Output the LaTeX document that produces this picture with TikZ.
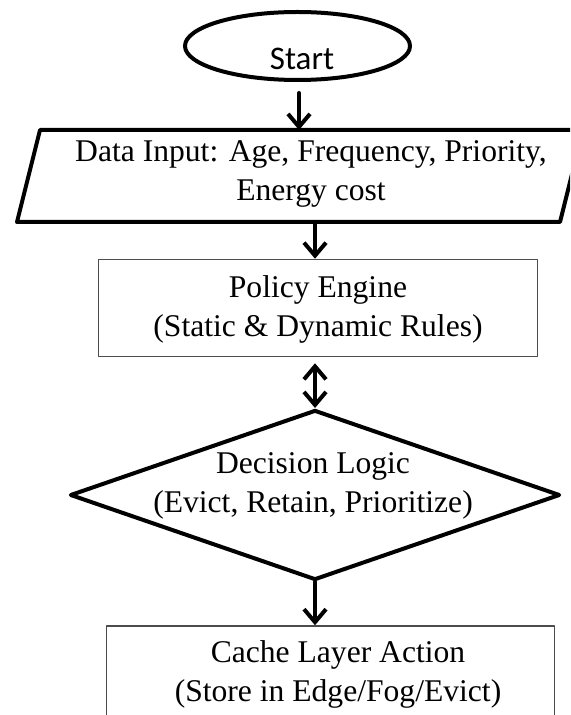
\documentclass[tikz,border=0pt]{standalone}
\usepackage{fontspec}
\setmainfont{Liberation Serif}
\newfontfamily\startfont{Carlito}
\usetikzlibrary{shapes.geometric,arrows.meta,positioning}

\begin{document}
\begin{tikzpicture}[x=0.5pt,y=-0.5pt,line cap=round,line join=round,
  thickshape/.style={draw,line width=2pt,inner sep=0pt},
  thinbox/.style={draw=black!70,line width=0.75pt,rectangle,inner sep=0pt},
  flow/.style={line width=2pt,-{Straight Barb[length=6.5pt,width=11pt]}},
  every node/.style={font=\fontsize{15.8}{19.5}\selectfont}]
  \useasboundingbox (0,0) rectangle (570,715);
  \clip (0,0) rectangle (570,715);
  % shapes
  \node[thickshape,ellipse,minimum width=112.5pt,minimum height=34pt] (start) at (297.5,46) {};
  \draw[thickshape] (40,130) -- (583,130) -- (560,222) -- (17,222) -- cycle;
  \coordinate (inputtop) at (299,130);
  \coordinate (inputbot) at (315,222);
  \node[thinbox,minimum width=219.5pt,minimum height=48.5pt] (policy) at (318,308) {};
  \node[thickshape,diamond,minimum width=245pt,minimum height=85pt] (dec) at (315,495) {};
  \node[thinbox,minimum width=224pt,minimum height=48pt] (cache) at (330.5,674) {};
  % texts
  \node[font=\startfont\fontsize{16.5}{19}\selectfont] (startlbl) at (302,59) {Start};
  \node[align=center] (inputlbl) at (311,174) {Data Input: Age, Frequency, Priority,\\Energy cost};
  \node[align=center] (policylbl) at (318,309) {Policy Engine\\(Static \& Dynamic Rules)};
  \node[align=center] (declbl) at (313,486) {Decision Logic\\(Evict, Retain, Prioritize)};
  \node[align=center] (cachelbl) at (338,674) {Cache Layer Action\\(Store in Edge/Fog/Evict)};
  % connectors
  \draw[flow,shorten <=5.5pt] (start.south -| inputtop) -- (inputtop);
  \draw[flow] (inputbot) -- (inputbot |- policy.north);
  \draw[line width=2pt,{Straight Barb[length=6.5pt,width=11pt]}-{Straight Barb[length=6.5pt,width=11pt]},
        shorten <=3pt] (policy.south -| dec.north) -- (dec.north);
  \draw[flow] (dec.south) -- (dec.south |- cache.north);
\end{tikzpicture}
\end{document}
